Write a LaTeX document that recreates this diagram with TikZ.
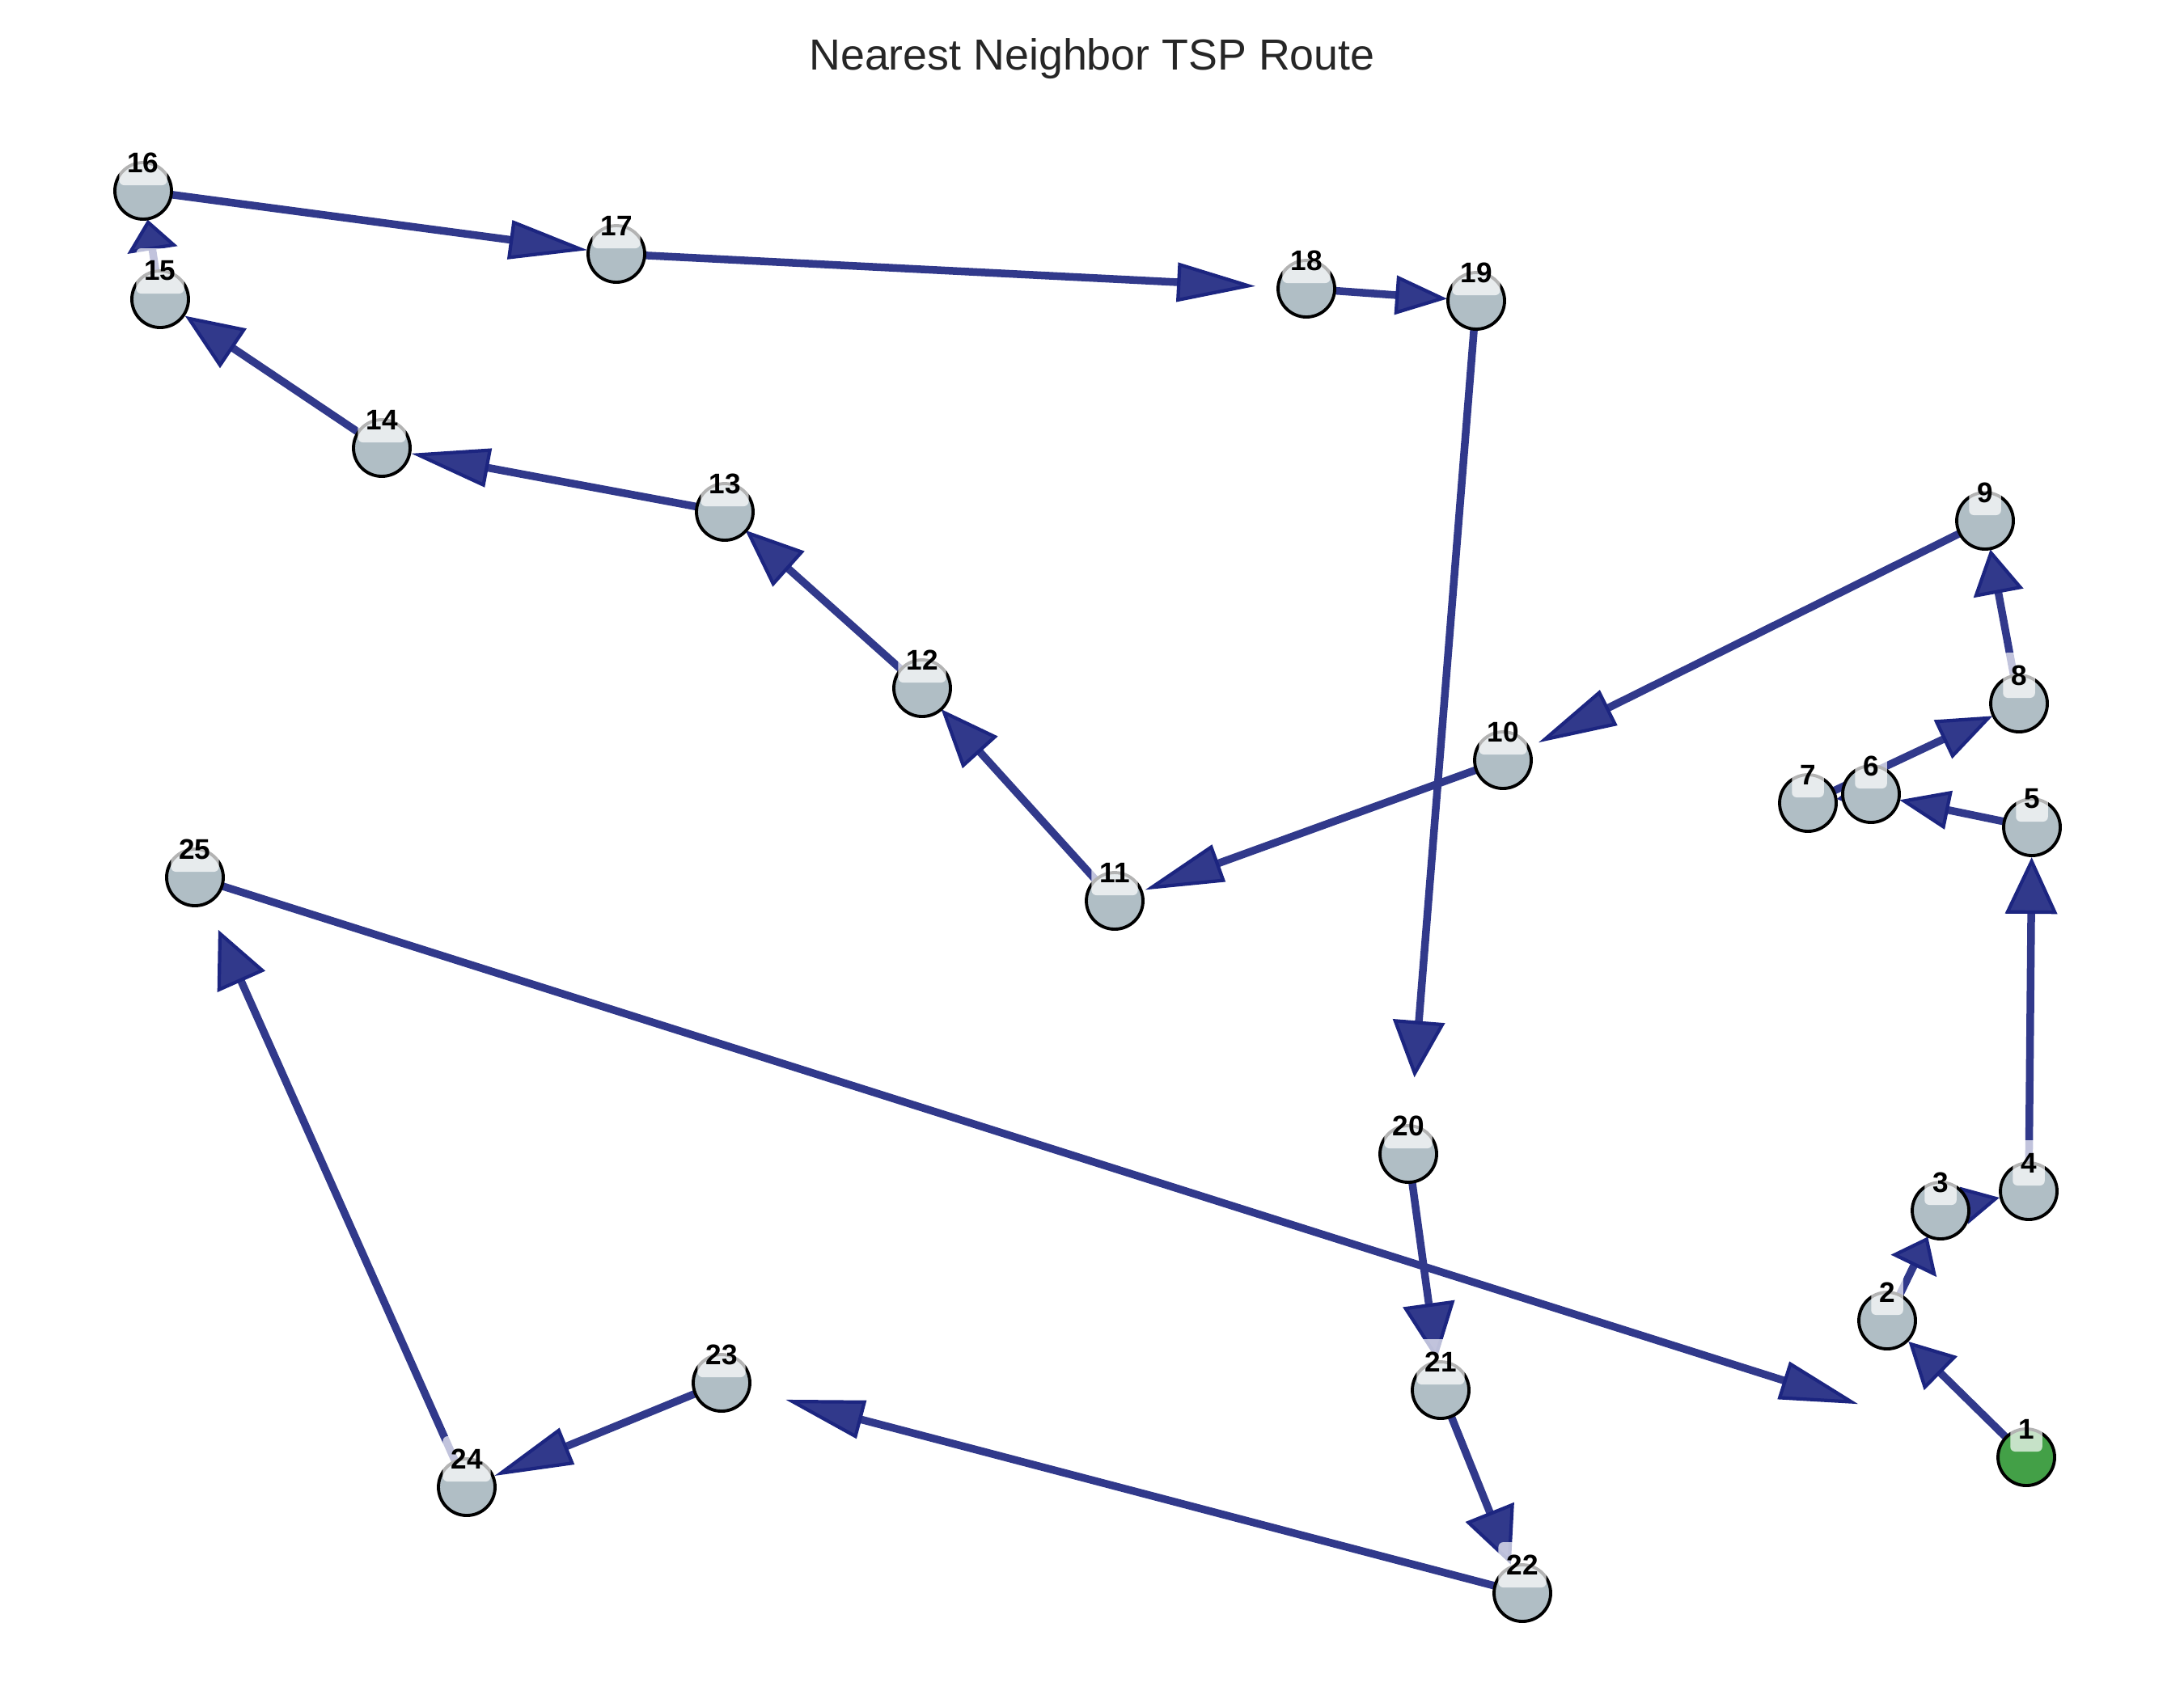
\documentclass[tikz,border=0pt]{standalone}
\usepackage{fontspec}
\setmainfont{Liberation Sans}
\usetikzlibrary{arrows.meta}

\definecolor{edgeblue}{HTML}{31398B}
\definecolor{edgedark}{HTML}{1C2580}
\definecolor{citygrey}{HTML}{B0BEC5}
\definecolor{startgreen}{HTML}{43A047}
\definecolor{titlegrey}{HTML}{262626}

\tikzset{
	city/.style={circle, draw=black, line width=1.1pt, fill=citygrey, minimum size=0.7cm, inner sep=0pt, outer sep=0pt},
	startcity/.style={city, fill=startgreen},
	lab/.style={rectangle, rounded corners=0.06cm, fill=white, fill opacity=0.7, text opacity=1, inner xsep=0.1cm, inner ysep=0pt, minimum height=0.56cm, font=\fontsize{10}{12}\selectfont\bfseries},
	route/.style={draw=edgeblue, line width=2.7pt},
	% 箭头: 长度, 宽度
	leg/.style 2 args={route, -{Triangle[length=#1, width=#2, fill=edgeblue, color=edgedark, line width=1.2pt]}},
	legflat/.style={leg={0.97cm}{0.48cm}},
	legmid/.style={leg={0.72cm}{0.58cm}},
	legsteep/.style={leg={0.70cm}{0.64cm}}
}

\begin{document}
\begin{tikzpicture}[x=1cm, y=-1cm]
	% 画布大小 27 x 21
	\useasboundingbox (0,0) rectangle (27,21);
	
	% 城市坐标
	\coordinate (c1) at (25.05,18.02);
	\coordinate (c2) at (23.33,16.33);
	\coordinate (c3) at (23.99,14.97);
	\coordinate (c4) at (25.08,14.73);
	\coordinate (c5) at (25.12,10.23);
	\coordinate (c6) at (23.13,9.82);
	\coordinate (c7) at (22.35,9.93);
	\coordinate (c8) at (24.96,8.70);
	\coordinate (c9) at (24.54,6.44);
	\coordinate (c10) at (18.58,9.40);
	\coordinate (c11) at (13.78,11.14);
	\coordinate (c12) at (11.40,8.51);
	\coordinate (c13) at (8.96,6.33);
	\coordinate (c14) at (4.72,5.54);
	\coordinate (c15) at (1.98,3.70);
	\coordinate (c16) at (1.77,2.36);
	\coordinate (c17) at (7.62,3.14);
	\coordinate (c18) at (16.15,3.57);
	\coordinate (c19) at (18.25,3.72);
	\coordinate (c20) at (17.41,14.27);
	\coordinate (c21) at (17.81,17.19);
	\coordinate (c22) at (18.82,19.70);
	\coordinate (c23) at (8.92,17.10);
	\coordinate (c24) at (5.77,18.39);
	\coordinate (c25) at (2.41,10.85);
	
	% 路线(最近邻顺序)
	\draw[leg={0.56cm}{0.58cm}, shorten >=0.37cm] (c1) -- (c2);
	\draw[leg={0.40cm}{0.62cm}, shorten >=0.36cm] (c2) -- (c3);
	\draw[leg={0.45cm}{0.46cm}, shorten >=0.37cm] (c3) -- (c4);
	\draw[legsteep, shorten >=0.37cm] (c4) -- (c5);
	\draw[leg={0.62cm}{0.48cm}, shorten >=0.36cm] (c5) -- (c6);
	\draw[leg={0.40cm}{0.45cm}, shorten >=0.36cm] (c6) -- (c7);
	\draw[leg={0.68cm}{0.52cm}, shorten >=0.36cm] (c7) -- (c8);
	\draw[leg={0.55cm}{0.62cm}, shorten >=0.36cm] (c8) -- (c9);
	\draw[legflat, shorten >=0.49cm] (c9) -- (c10);
	\draw[legflat, shorten >=0.40cm] (c10) -- (c11);
	\draw[legmid, shorten >=0.35cm] (c11) -- (c12);
	\draw[legmid, shorten >=0.34cm] (c12) -- (c13);
	\draw[legflat, shorten >=0.37cm] (c13) -- (c14);
	\draw[legmid, shorten >=0.37cm] (c14) -- (c15);
	\draw[leg={0.38cm}{0.62cm}, shorten >=0.36cm] (c15) -- (c16);
	\draw[legflat, shorten >=0.36cm] (c16) -- (c17);
	\draw[legflat, shorten >=0.63cm] (c17) -- (c18);
	\draw[leg={0.64cm}{0.48cm}, shorten >=0.36cm] (c18) -- (c19);
	\draw[legsteep, shorten >=0.95cm] (c19) -- (c20);
	\draw[legsteep, shorten >=0.38cm] (c20) -- (c21);
	\draw[legsteep, shorten >=0.38cm] (c21) -- (c22);
	\draw[legflat, shorten >=0.82cm] (c22) -- (c23);
	\draw[legflat, shorten >=0.37cm] (c23) -- (c24);
	\draw[legsteep, shorten >=0.71cm] (c24) -- (c25);
	% 回到起点
	\draw[legflat, shorten >=2.18cm] (c25) -- (c1);
	
	% 城市节点, 1 为起点
	\node[startcity] (n1) at (c1) {};
	\node[city] (n2) at (c2) {};
	\node[city] (n3) at (c3) {};
	\node[city] (n4) at (c4) {};
	\node[city] (n5) at (c5) {};
	\node[city] (n6) at (c6) {};
	\node[city] (n7) at (c7) {};
	\node[city] (n8) at (c8) {};
	\node[city] (n9) at (c9) {};
	\node[city] (n10) at (c10) {};
	\node[city] (n11) at (c11) {};
	\node[city] (n12) at (c12) {};
	\node[city] (n13) at (c13) {};
	\node[city] (n14) at (c14) {};
	\node[city] (n15) at (c15) {};
	\node[city] (n16) at (c16) {};
	\node[city] (n17) at (c17) {};
	\node[city] (n18) at (c18) {};
	\node[city] (n19) at (c19) {};
	\node[city] (n20) at (c20) {};
	\node[city] (n21) at (c21) {};
	\node[city] (n22) at (c22) {};
	\node[city] (n23) at (c23) {};
	\node[city] (n24) at (c24) {};
	\node[city] (n25) at (c25) {};
	
	% 编号标签
	\node[lab] (l1) at (n1.north) {1};
	\node[lab] (l2) at (n2.north) {2};
	\node[lab] (l3) at (n3.north) {3};
	\node[lab] (l4) at (n4.north) {4};
	\node[lab] (l5) at (n5.north) {5};
	\node[lab] (l6) at (n6.north) {6};
	\node[lab] (l7) at (n7.north) {7};
	\node[lab] (l8) at (n8.north) {8};
	\node[lab] (l9) at (n9.north) {9};
	\node[lab] (l10) at (n10.north) {10};
	\node[lab] (l11) at (n11.north) {11};
	\node[lab] (l12) at (n12.north) {12};
	\node[lab] (l13) at (n13.north) {13};
	\node[lab] (l14) at (n14.north) {14};
	\node[lab] (l15) at (n15.north) {15};
	\node[lab] (l16) at (n16.north) {16};
	\node[lab] (l17) at (n17.north) {17};
	\node[lab] (l18) at (n18.north) {18};
	\node[lab] (l19) at (n19.north) {19};
	\node[lab] (l20) at (n20.north) {20};
	\node[lab] (l21) at (n21.north) {21};
	\node[lab] (l22) at (n22.north) {22};
	\node[lab] (l23) at (n23.north) {23};
	\node[lab] (l24) at (n24.north) {24};
	\node[lab] (l25) at (n25.north) {25};
	
	% 标题
	\node[anchor=base, text=titlegrey, font=\fontsize{15.3}{18}\selectfont] (title) at (13.5,0.86) {Nearest Neighbor TSP Route};
\end{tikzpicture}
\end{document}
